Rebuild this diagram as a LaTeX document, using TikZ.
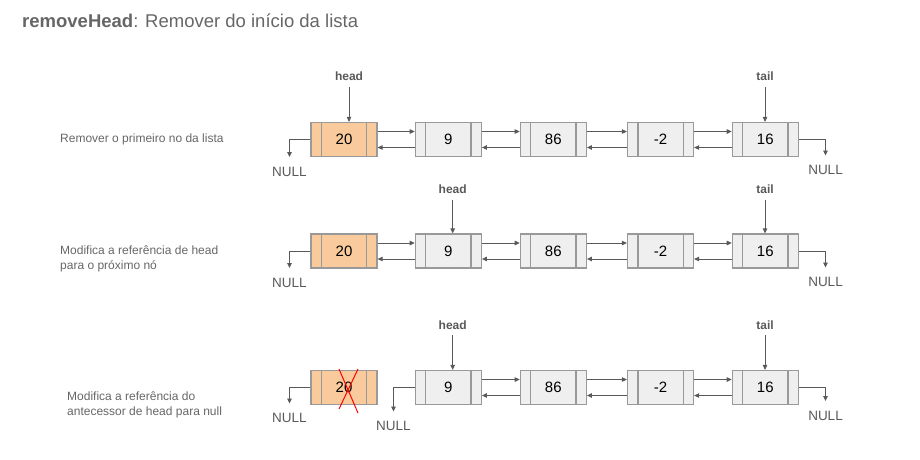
\documentclass[tikz,border=0pt]{standalone}
\usepackage{fontspec}
\setmainfont{Liberation Sans}
\usetikzlibrary{arrows.meta}
\definecolor{txt}{HTML}{666666}
\definecolor{dk}{HTML}{595959}
\definecolor{bd}{HTML}{999999}
\definecolor{org}{HTML}{F9CB9C}
\definecolor{gry}{HTML}{EFEFEF}
\begin{document}
\begin{tikzpicture}[x=1pt,y=-1pt,
  lnode/.style={draw=bd,line width=1.2pt,minimum width=66pt,minimum height=34pt,inner sep=0pt,fill=gry,
    font=\fontsize{15}{18}\selectfont},
  orgnode/.style={lnode,fill=org},
  divline/.style={draw=bd,line width=1.2pt},
  ar/.style={draw=dk,line width=0.9pt,-{Triangle[length=5pt,width=4.5pt]}},
  ptr/.style={font=\fontsize{12}{14}\selectfont\bfseries,text=dk,anchor=base,inner xsep=0pt,inner ysep=6pt},
  nul/.style={font=\fontsize{13.5}{16}\selectfont,text=dk,anchor=north,inner xsep=0pt,inner ysep=10pt},
  lbl/.style={font=\fontsize{12}{15}\selectfont,text=txt,anchor=base west,inner sep=0pt},
  xmark/.style={draw=red,line width=1pt}]
\useasboundingbox (0,0) rectangle (920,459);

% title
\node[anchor=base west,inner sep=0pt,text=txt,font=\fontsize{18.5}{22}\selectfont] (title) at (22,27)
  {\textbf{removeHead}: Remover do início da lista};

% row labels
\node[lbl] (l1) at (60,142.7) {Remover o primeiro no da lista};
\node[lbl] (l2a) at (60,254) {Modifica a referência de head};
\node[lbl] (l2b) at (60,269.5) {para o próximo nó};
\node[lbl] (l3a) at (67,400) {Modifica a referência do};
\node[lbl] (l3b) at (67,415) {antecessor de head para null};

% rows of nodes
\foreach \r/\y in {1/139.5,2/251,3/387.5}{
  \node[orgnode] (r\r a) at (344,\y) {20};
  \node[lnode] (r\r b) at (448.3,\y) {9};
  \node[lnode] (r\r c) at (553.3,\y) {86};
  \node[lnode] (r\r d) at (660.5,\y) {-2};
  \node[lnode] (r\r e) at (765.3,\y) {16};
  \foreach \n in {a,b,c,d,e}{
    \draw[divline] ([xshift=11pt]r\r\n.north west) -- ([xshift=11pt]r\r\n.south west);
    \draw[divline] ([xshift=-11pt]r\r\n.north east) -- ([xshift=-11pt]r\r\n.south east);
  }
}

% forward / backward links
\foreach \r in {1,2}{
  \draw[ar] ([yshift=8pt]r\r a.east) -- ([yshift=8pt]r\r b.west);
  \draw[ar] ([yshift=-8pt]r\r b.west) -- ([yshift=-8pt]r\r a.east);
}
\foreach \r in {1,2,3}{
  \draw[ar] ([yshift=8pt]r\r b.east) -- ([yshift=8pt]r\r c.west);
  \draw[ar] ([yshift=-8pt]r\r c.west) -- ([yshift=-8pt]r\r b.east);
  \draw[ar] ([yshift=8pt]r\r c.east) -- ([yshift=8pt]r\r d.west);
  \draw[ar] ([yshift=-8pt]r\r d.west) -- ([yshift=-8pt]r\r c.east);
  \draw[ar] ([yshift=8pt]r\r d.east) -- ([yshift=8pt]r\r e.west);
  \draw[ar] ([yshift=-8pt]r\r e.west) -- ([yshift=-8pt]r\r d.east);
}

% head / tail pointers
\node[ptr] (h1) at (349,80.7) {head};
\node[ptr] (t1) at (765,80.7) {tail};
\node[ptr] (h2) at (452.7,193.3) {head};
\node[ptr] (t2) at (765,193.3) {tail};
\node[ptr] (h3) at (452.7,329) {head};
\node[ptr] (t3) at (765,329) {tail};
\draw[ar] (h1.south) -- (h1.south |- r1a.north);
\draw[ar] (t1.south) -- (t1.south |- r1e.north);
\draw[ar] (h2.south) -- (h2.south |- r2b.north);
\draw[ar] (t2.south) -- (t2.south |- r2e.north);
\draw[ar] (h3.south) -- (h3.south |- r3b.north);
\draw[ar] (t3.south) -- (t3.south |- r3e.north);

% NULL ends
\node[nul] (n1l) at (289.5,157) {NULL};
\node[nul] (n1r) at (825.5,155.5) {NULL};
\node[nul] (n2l) at (289.5,268) {NULL};
\node[nul] (n2r) at (825.5,267.5) {NULL};
\node[nul] (n3l) at (289.5,403.5) {NULL};
\node[nul] (n3m) at (393.5,411.5) {NULL};
\node[nul] (n3r) at (825.5,401) {NULL};
\draw[ar] (r1a.west) -| (n1l.north);
\draw[ar] (r1e.east) -| (n1r.north);
\draw[ar] (r2a.west) -| (n2l.north);
\draw[ar] (r2e.east) -| (n2r.north);
\draw[ar] (r3a.west) -| (n3l.north);
\draw[ar] (r3b.west) -| (n3m.north);
\draw[ar] (r3e.east) -| (n3r.north);

% red cross over removed node
\draw[xmark] (339,369) -- (358,413);
\draw[xmark] (358,369) -- (339,409);
\end{tikzpicture}
\end{document}
